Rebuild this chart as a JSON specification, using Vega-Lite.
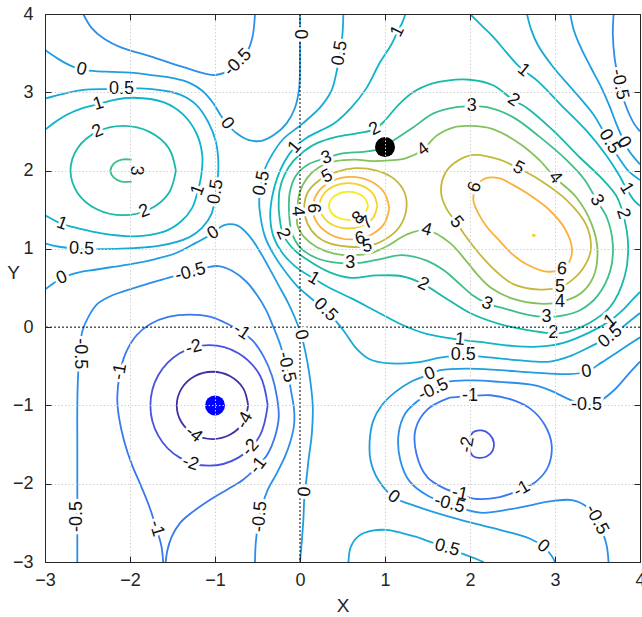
{
"$schema":"https://vega.github.io/schema/vega-lite/v6.json",
"width":595,"height":548,
"autosize":{"type":"none"},
"padding":{"left":45,"top":14,"right":2,"bottom":55},
"background":"#ffffff",
"config":{"view":{"stroke":null},"axis":{"domainColor":"#262626","domainWidth":1,"tickColor":"#262626","tickWidth":1,"labelFont":"Liberation Sans","labelFontSize":18,"labelColor":"#262626","titleFont":"Liberation Sans","titleFontSize":19,"titleFontWeight":"normal","titleColor":"#262626","gridColor":"#d2d2d2","gridDash":[1.5,2],"gridWidth":1}},
"datasets":{
"lines":[
{"i":1,"l":"8","x":0.8,"y":1.55},{"i":1,"l":"8","x":0.769,"y":1.64},{"i":1,"l":"8","x":0.685,"y":1.706},{"i":1,"l":"8","x":0.57,"y":1.73},{"i":1,"l":"8","x":0.455,"y":1.706},{"i":1,"l":"8","x":0.371,"y":1.64},{"i":1,"l":"8","x":0.34,"y":1.55},{"i":1,"l":"8","x":0.371,"y":1.46},{"i":1,"l":"8","x":0.455,"y":1.394},{"i":1,"l":"8","x":0.57,"y":1.37},{"i":1,"l":"8","x":0.685,"y":1.394},{"i":1,"l":"8","x":0.769,"y":1.46},{"i":1,"l":"8","x":0.8,"y":1.55},
{"i":2,"l":"7","x":0.91,"y":1.55},{"i":2,"l":"7","x":0.864,"y":1.695},{"i":2,"l":"7","x":0.74,"y":1.801},{"i":2,"l":"7","x":0.57,"y":1.84},{"i":2,"l":"7","x":0.4,"y":1.801},{"i":2,"l":"7","x":0.276,"y":1.695},{"i":2,"l":"7","x":0.23,"y":1.55},{"i":2,"l":"7","x":0.276,"y":1.405},{"i":2,"l":"7","x":0.4,"y":1.299},{"i":2,"l":"7","x":0.57,"y":1.26},{"i":2,"l":"7","x":0.74,"y":1.299},{"i":2,"l":"7","x":0.864,"y":1.405},{"i":2,"l":"7","x":0.91,"y":1.55},
{"i":3,"l":"6","x":1.05,"y":1.52},{"i":3,"l":"6","x":0.99,"y":1.72},{"i":3,"l":"6","x":0.825,"y":1.866},{"i":3,"l":"6","x":0.6,"y":1.92},{"i":3,"l":"6","x":0.375,"y":1.866},{"i":3,"l":"6","x":0.21,"y":1.72},{"i":3,"l":"6","x":0.15,"y":1.52},{"i":3,"l":"6","x":0.21,"y":1.32},{"i":3,"l":"6","x":0.375,"y":1.174},{"i":3,"l":"6","x":0.6,"y":1.12},{"i":3,"l":"6","x":0.825,"y":1.174},{"i":3,"l":"6","x":0.99,"y":1.32},{"i":3,"l":"6","x":1.05,"y":1.52},
{"i":4,"l":"5","x":0.55,"y":1.03},{"i":4,"l":"5","x":0.78,"y":1.03},{"i":4,"l":"5","x":1.0,"y":1.12},{"i":4,"l":"5","x":1.17,"y":1.28},{"i":4,"l":"5","x":1.25,"y":1.5},{"i":4,"l":"5","x":1.23,"y":1.72},{"i":4,"l":"5","x":1.1,"y":1.9},{"i":4,"l":"5","x":0.9,"y":2.0},{"i":4,"l":"5","x":0.65,"y":2.03},{"i":4,"l":"5","x":0.42,"y":1.98},{"i":4,"l":"5","x":0.22,"y":1.87},{"i":4,"l":"5","x":0.09,"y":1.72},{"i":4,"l":"5","x":0.05,"y":1.52},{"i":4,"l":"5","x":0.09,"y":1.32},{"i":4,"l":"5","x":0.2,"y":1.16},{"i":4,"l":"5","x":0.35,"y":1.07},{"i":4,"l":"5","x":0.55,"y":1.03},
{"i":5,"l":"4","x":-0.03,"y":1.48},{"i":5,"l":"4","x":-0.01,"y":1.7},{"i":5,"l":"4","x":0.08,"y":1.9},{"i":5,"l":"4","x":0.22,"y":2.04},{"i":5,"l":"4","x":0.42,"y":2.12},{"i":5,"l":"4","x":0.65,"y":2.14},{"i":5,"l":"4","x":0.85,"y":2.12},{"i":5,"l":"4","x":1.05,"y":2.13},{"i":5,"l":"4","x":1.25,"y":2.16},{"i":5,"l":"4","x":1.45,"y":2.27},{"i":5,"l":"4","x":1.6,"y":2.44},{"i":5,"l":"4","x":1.8,"y":2.55},{"i":5,"l":"4","x":2.0,"y":2.57},{"i":5,"l":"4","x":2.27,"y":2.53},{"i":5,"l":"4","x":2.59,"y":2.34},{"i":5,"l":"4","x":2.82,"y":2.13},{"i":5,"l":"4","x":3.0,"y":1.91},{"i":5,"l":"4","x":3.25,"y":1.66},{"i":5,"l":"4","x":3.43,"y":1.32},{"i":5,"l":"4","x":3.5,"y":0.98},{"i":5,"l":"4","x":3.45,"y":0.64},{"i":5,"l":"4","x":3.3,"y":0.43},{"i":5,"l":"4","x":3.06,"y":0.32},{"i":5,"l":"4","x":2.82,"y":0.3},{"i":5,"l":"4","x":2.51,"y":0.36},{"i":5,"l":"4","x":2.25,"y":0.5},{"i":5,"l":"4","x":2.08,"y":0.68},{"i":5,"l":"4","x":1.96,"y":0.84},{"i":5,"l":"4","x":1.76,"y":1.08},{"i":5,"l":"4","x":1.49,"y":1.24},{"i":5,"l":"4","x":1.25,"y":1.18},{"i":5,"l":"4","x":1.05,"y":1.05},{"i":5,"l":"4","x":0.85,"y":0.95},{"i":5,"l":"4","x":0.62,"y":0.92},{"i":5,"l":"4","x":0.4,"y":0.94},{"i":5,"l":"4","x":0.2,"y":1.02},{"i":5,"l":"4","x":0.05,"y":1.15},{"i":5,"l":"4","x":-0.03,"y":1.3},{"i":5,"l":"4","x":-0.03,"y":1.48},
{"i":6,"l":"3","x":-0.13,"y":1.5},{"i":6,"l":"3","x":-0.12,"y":1.72},{"i":6,"l":"3","x":-0.05,"y":1.93},{"i":6,"l":"3","x":0.1,"y":2.08},{"i":6,"l":"3","x":0.31,"y":2.16},{"i":6,"l":"3","x":0.5,"y":2.22},{"i":6,"l":"3","x":0.75,"y":2.24},{"i":6,"l":"3","x":0.95,"y":2.28},{"i":6,"l":"3","x":1.12,"y":2.4},{"i":6,"l":"3","x":1.33,"y":2.55},{"i":6,"l":"3","x":1.57,"y":2.73},{"i":6,"l":"3","x":1.84,"y":2.81},{"i":6,"l":"3","x":2.02,"y":2.82},{"i":6,"l":"3","x":2.2,"y":2.81},{"i":6,"l":"3","x":2.51,"y":2.68},{"i":6,"l":"3","x":2.82,"y":2.43},{"i":6,"l":"3","x":3.14,"y":2.13},{"i":6,"l":"3","x":3.35,"y":1.88},{"i":6,"l":"3","x":3.49,"y":1.62},{"i":6,"l":"3","x":3.61,"y":1.4},{"i":6,"l":"3","x":3.68,"y":1.06},{"i":6,"l":"3","x":3.65,"y":0.72},{"i":6,"l":"3","x":3.5,"y":0.4},{"i":6,"l":"3","x":3.3,"y":0.22},{"i":6,"l":"3","x":3.1,"y":0.15},{"i":6,"l":"3","x":2.9,"y":0.13},{"i":6,"l":"3","x":2.67,"y":0.16},{"i":6,"l":"3","x":2.4,"y":0.24},{"i":6,"l":"3","x":2.2,"y":0.3},{"i":6,"l":"3","x":2.04,"y":0.4},{"i":6,"l":"3","x":1.85,"y":0.58},{"i":6,"l":"3","x":1.7,"y":0.72},{"i":6,"l":"3","x":1.49,"y":0.85},{"i":6,"l":"3","x":1.2,"y":0.92},{"i":6,"l":"3","x":0.95,"y":0.87},{"i":6,"l":"3","x":0.7,"y":0.82},{"i":6,"l":"3","x":0.45,"y":0.82},{"i":6,"l":"3","x":0.2,"y":0.88},{"i":6,"l":"3","x":0.0,"y":1.02},{"i":6,"l":"3","x":-0.1,"y":1.22},{"i":6,"l":"3","x":-0.13,"y":1.5},
{"i":7,"l":"2","x":-0.25,"y":1.5},{"i":7,"l":"2","x":-0.24,"y":1.75},{"i":7,"l":"2","x":-0.18,"y":1.95},{"i":7,"l":"2","x":-0.08,"y":2.12},{"i":7,"l":"2","x":0.05,"y":2.25},{"i":7,"l":"2","x":0.2,"y":2.35},{"i":7,"l":"2","x":0.43,"y":2.43},{"i":7,"l":"2","x":0.7,"y":2.48},{"i":7,"l":"2","x":0.88,"y":2.53},{"i":7,"l":"2","x":1.0,"y":2.64},{"i":7,"l":"2","x":1.15,"y":2.83},{"i":7,"l":"2","x":1.33,"y":3.0},{"i":7,"l":"2","x":1.55,"y":3.11},{"i":7,"l":"2","x":1.73,"y":3.15},{"i":7,"l":"2","x":2.0,"y":3.16},{"i":7,"l":"2","x":2.27,"y":3.09},{"i":7,"l":"2","x":2.51,"y":2.9},{"i":7,"l":"2","x":2.67,"y":2.8},{"i":7,"l":"2","x":2.98,"y":2.51},{"i":7,"l":"2","x":3.29,"y":2.17},{"i":7,"l":"2","x":3.55,"y":1.9},{"i":7,"l":"2","x":3.72,"y":1.68},{"i":7,"l":"2","x":3.8,"y":1.45},{"i":7,"l":"2","x":3.86,"y":1.06},{"i":7,"l":"2","x":3.82,"y":0.65},{"i":7,"l":"2","x":3.65,"y":0.26},{"i":7,"l":"2","x":3.4,"y":0.05},{"i":7,"l":"2","x":3.15,"y":-0.06},{"i":7,"l":"2","x":2.98,"y":-0.08},{"i":7,"l":"2","x":2.75,"y":-0.05},{"i":7,"l":"2","x":2.35,"y":0.04},{"i":7,"l":"2","x":2.0,"y":0.18},{"i":7,"l":"2","x":1.7,"y":0.38},{"i":7,"l":"2","x":1.45,"y":0.55},{"i":7,"l":"2","x":1.2,"y":0.65},{"i":7,"l":"2","x":0.9,"y":0.66},{"i":7,"l":"2","x":0.6,"y":0.63},{"i":7,"l":"2","x":0.35,"y":0.7},{"i":7,"l":"2","x":0.1,"y":0.85},{"i":7,"l":"2","x":-0.08,"y":1.0},{"i":7,"l":"2","x":-0.2,"y":1.19},{"i":7,"l":"2","x":-0.25,"y":1.5},
{"i":8,"l":"1","x":1.24,"y":4.0},{"i":8,"l":"1","x":1.2,"y":3.88},{"i":8,"l":"1","x":1.15,"y":3.78},{"i":8,"l":"1","x":1.07,"y":3.6},{"i":8,"l":"1","x":0.94,"y":3.38},{"i":8,"l":"1","x":0.78,"y":3.05},{"i":8,"l":"1","x":0.6,"y":2.8},{"i":8,"l":"1","x":0.4,"y":2.6},{"i":8,"l":"1","x":0.24,"y":2.51},{"i":8,"l":"1","x":0.08,"y":2.42},{"i":8,"l":"1","x":-0.06,"y":2.3},{"i":8,"l":"1","x":-0.18,"y":2.12},{"i":8,"l":"1","x":-0.27,"y":1.9},{"i":8,"l":"1","x":-0.33,"y":1.65},{"i":8,"l":"1","x":-0.35,"y":1.4},{"i":8,"l":"1","x":-0.31,"y":1.15},{"i":8,"l":"1","x":-0.21,"y":0.95},{"i":8,"l":"1","x":-0.06,"y":0.78},{"i":8,"l":"1","x":0.16,"y":0.62},{"i":8,"l":"1","x":0.35,"y":0.5},{"i":8,"l":"1","x":0.6,"y":0.37},{"i":8,"l":"1","x":0.9,"y":0.2},{"i":8,"l":"1","x":1.2,"y":0.03},{"i":8,"l":"1","x":1.5,"y":-0.09},{"i":8,"l":"1","x":1.88,"y":-0.16},{"i":8,"l":"1","x":2.2,"y":-0.2},{"i":8,"l":"1","x":2.5,"y":-0.24},{"i":8,"l":"1","x":2.8,"y":-0.25},{"i":8,"l":"1","x":3.1,"y":-0.2},{"i":8,"l":"1","x":3.4,"y":-0.07},{"i":8,"l":"1","x":3.63,"y":0.07},{"i":8,"l":"1","x":3.8,"y":0.22},{"i":8,"l":"1","x":3.92,"y":0.36},{"i":8,"l":"1","x":4.0,"y":0.45},
{"i":9,"l":"1","x":2.0,"y":4.0},{"i":9,"l":"1","x":2.12,"y":3.87},{"i":9,"l":"1","x":2.27,"y":3.71},{"i":9,"l":"1","x":2.42,"y":3.52},{"i":9,"l":"1","x":2.55,"y":3.36},{"i":9,"l":"1","x":2.63,"y":3.28},{"i":9,"l":"1","x":2.8,"y":3.14},{"i":9,"l":"1","x":3.06,"y":2.85},{"i":9,"l":"1","x":3.37,"y":2.51},{"i":9,"l":"1","x":3.6,"y":2.2},{"i":9,"l":"1","x":3.75,"y":1.95},{"i":9,"l":"1","x":3.84,"y":1.77},{"i":9,"l":"1","x":3.93,"y":1.62},{"i":9,"l":"1","x":4.0,"y":1.55},
{"i":10,"l":"0.5","x":0.51,"y":4.0},{"i":10,"l":"0.5","x":0.5,"y":3.75},{"i":10,"l":"0.5","x":0.47,"y":3.5},{"i":10,"l":"0.5","x":0.43,"y":3.26},{"i":10,"l":"0.5","x":0.37,"y":3.02},{"i":10,"l":"0.5","x":0.24,"y":2.81},{"i":10,"l":"0.5","x":0.03,"y":2.6},{"i":10,"l":"0.5","x":-0.2,"y":2.4},{"i":10,"l":"0.5","x":-0.33,"y":2.2},{"i":10,"l":"0.5","x":-0.42,"y":2.0},{"i":10,"l":"0.5","x":-0.46,"y":1.8},{"i":10,"l":"0.5","x":-0.48,"y":1.6},{"i":10,"l":"0.5","x":-0.46,"y":1.38},{"i":10,"l":"0.5","x":-0.41,"y":1.15},{"i":10,"l":"0.5","x":-0.31,"y":0.93},{"i":10,"l":"0.5","x":-0.18,"y":0.72},{"i":10,"l":"0.5","x":-0.03,"y":0.52},{"i":10,"l":"0.5","x":0.14,"y":0.36},{"i":10,"l":"0.5","x":0.3,"y":0.22},{"i":10,"l":"0.5","x":0.42,"y":0.08},{"i":10,"l":"0.5","x":0.51,"y":-0.04},{"i":10,"l":"0.5","x":0.67,"y":-0.28},{"i":10,"l":"0.5","x":0.82,"y":-0.41},{"i":10,"l":"0.5","x":1.02,"y":-0.46},{"i":10,"l":"0.5","x":1.37,"y":-0.45},{"i":10,"l":"0.5","x":1.65,"y":-0.39},{"i":10,"l":"0.5","x":1.92,"y":-0.36},{"i":10,"l":"0.5","x":2.16,"y":-0.38},{"i":10,"l":"0.5","x":2.55,"y":-0.42},{"i":10,"l":"0.5","x":2.94,"y":-0.44},{"i":10,"l":"0.5","x":3.2,"y":-0.36},{"i":10,"l":"0.5","x":3.45,"y":-0.23},{"i":10,"l":"0.5","x":3.65,"y":-0.12},{"i":10,"l":"0.5","x":3.85,"y":0.05},{"i":10,"l":"0.5","x":4.0,"y":0.18},
{"i":11,"l":"0.5","x":2.67,"y":4.0},{"i":11,"l":"0.5","x":2.72,"y":3.8},{"i":11,"l":"0.5","x":2.8,"y":3.6},{"i":11,"l":"0.5","x":2.98,"y":3.32},{"i":11,"l":"0.5","x":3.22,"y":3.02},{"i":11,"l":"0.5","x":3.45,"y":2.72},{"i":11,"l":"0.5","x":3.56,"y":2.52},{"i":11,"l":"0.5","x":3.64,"y":2.37},{"i":11,"l":"0.5","x":3.74,"y":2.18},{"i":11,"l":"0.5","x":3.86,"y":2.0},{"i":11,"l":"0.5","x":4.0,"y":1.88},
{"i":12,"l":"0","x":3.18,"y":4.0},{"i":12,"l":"0","x":3.22,"y":3.8},{"i":12,"l":"0","x":3.3,"y":3.58},{"i":12,"l":"0","x":3.42,"y":3.32},{"i":12,"l":"0","x":3.55,"y":3.05},{"i":12,"l":"0","x":3.65,"y":2.8},{"i":12,"l":"0","x":3.72,"y":2.6},{"i":12,"l":"0","x":3.78,"y":2.45},{"i":12,"l":"0","x":3.86,"y":2.27},{"i":12,"l":"0","x":4.0,"y":2.08},
{"i":13,"l":"-0.5","x":3.69,"y":4.0},{"i":13,"l":"-0.5","x":3.68,"y":3.75},{"i":13,"l":"-0.5","x":3.7,"y":3.45},{"i":13,"l":"-0.5","x":3.74,"y":3.2},{"i":13,"l":"-0.5","x":3.78,"y":3.0},{"i":13,"l":"-0.5","x":3.85,"y":2.78},{"i":13,"l":"-0.5","x":3.93,"y":2.6},{"i":13,"l":"-0.5","x":4.0,"y":2.5},
{"i":14,"l":"0","x":-3.0,"y":3.54},{"i":14,"l":"0","x":-2.85,"y":3.43},{"i":14,"l":"0","x":-2.7,"y":3.34},{"i":14,"l":"0","x":-2.57,"y":3.29},{"i":14,"l":"0","x":-2.41,"y":3.27},{"i":14,"l":"0","x":-2.2,"y":3.26},{"i":14,"l":"0","x":-2.0,"y":3.25},{"i":14,"l":"0","x":-1.75,"y":3.22},{"i":14,"l":"0","x":-1.49,"y":3.18},{"i":14,"l":"0","x":-1.3,"y":3.12},{"i":14,"l":"0","x":-1.15,"y":3.02},{"i":14,"l":"0","x":-1.02,"y":2.86},{"i":14,"l":"0","x":-0.93,"y":2.7},{"i":14,"l":"0","x":-0.86,"y":2.6},{"i":14,"l":"0","x":-0.75,"y":2.48},{"i":14,"l":"0","x":-0.6,"y":2.39},{"i":14,"l":"0","x":-0.45,"y":2.38},{"i":14,"l":"0","x":-0.3,"y":2.46},{"i":14,"l":"0","x":-0.16,"y":2.6},{"i":14,"l":"0","x":-0.06,"y":2.8},{"i":14,"l":"0","x":-0.01,"y":3.05},{"i":14,"l":"0","x":0.0,"y":3.4},{"i":14,"l":"0","x":0.0,"y":3.75},{"i":14,"l":"0","x":0.0,"y":4.0},
{"i":15,"l":"-0.5","x":-2.55,"y":4.0},{"i":15,"l":"-0.5","x":-2.45,"y":3.82},{"i":15,"l":"-0.5","x":-2.3,"y":3.68},{"i":15,"l":"-0.5","x":-2.1,"y":3.57},{"i":15,"l":"-0.5","x":-1.76,"y":3.46},{"i":15,"l":"-0.5","x":-1.37,"y":3.32},{"i":15,"l":"-0.5","x":-1.02,"y":3.22},{"i":15,"l":"-0.5","x":-0.85,"y":3.27},{"i":15,"l":"-0.5","x":-0.73,"y":3.38},{"i":15,"l":"-0.5","x":-0.62,"y":3.52},{"i":15,"l":"-0.5","x":-0.56,"y":3.7},{"i":15,"l":"-0.5","x":-0.54,"y":3.85},{"i":15,"l":"-0.5","x":-0.53,"y":4.0},
{"i":16,"l":"0.5","x":-3.0,"y":2.92},{"i":16,"l":"0.5","x":-2.75,"y":2.99},{"i":16,"l":"0.5","x":-2.55,"y":3.03},{"i":16,"l":"0.5","x":-2.3,"y":3.04},{"i":16,"l":"0.5","x":-2.1,"y":3.04},{"i":16,"l":"0.5","x":-1.88,"y":3.05},{"i":16,"l":"0.5","x":-1.6,"y":3.02},{"i":16,"l":"0.5","x":-1.41,"y":2.97},{"i":16,"l":"0.5","x":-1.22,"y":2.84},{"i":16,"l":"0.5","x":-1.08,"y":2.62},{"i":16,"l":"0.5","x":-0.99,"y":2.37},{"i":16,"l":"0.5","x":-0.96,"y":2.05},{"i":16,"l":"0.5","x":-0.99,"y":1.73},{"i":16,"l":"0.5","x":-1.04,"y":1.45},{"i":16,"l":"0.5","x":-1.15,"y":1.27},{"i":16,"l":"0.5","x":-1.3,"y":1.15},{"i":16,"l":"0.5","x":-1.65,"y":1.04},{"i":16,"l":"0.5","x":-2.16,"y":1.0},{"i":16,"l":"0.5","x":-2.57,"y":1.0},{"i":16,"l":"0.5","x":-2.85,"y":1.03},{"i":16,"l":"0.5","x":-3.0,"y":1.07},
{"i":17,"l":"1","x":-3.0,"y":2.52},{"i":17,"l":"1","x":-2.88,"y":2.62},{"i":17,"l":"1","x":-2.75,"y":2.71},{"i":17,"l":"1","x":-2.55,"y":2.8},{"i":17,"l":"1","x":-2.37,"y":2.85},{"i":17,"l":"1","x":-2.2,"y":2.9},{"i":17,"l":"1","x":-1.96,"y":2.93},{"i":17,"l":"1","x":-1.6,"y":2.87},{"i":17,"l":"1","x":-1.38,"y":2.72},{"i":17,"l":"1","x":-1.22,"y":2.48},{"i":17,"l":"1","x":-1.15,"y":2.2},{"i":17,"l":"1","x":-1.16,"y":1.95},{"i":17,"l":"1","x":-1.2,"y":1.75},{"i":17,"l":"1","x":-1.27,"y":1.52},{"i":17,"l":"1","x":-1.4,"y":1.35},{"i":17,"l":"1","x":-1.6,"y":1.22},{"i":17,"l":"1","x":-1.96,"y":1.16},{"i":17,"l":"1","x":-2.35,"y":1.2},{"i":17,"l":"1","x":-2.6,"y":1.26},{"i":17,"l":"1","x":-2.8,"y":1.32},{"i":17,"l":"1","x":-2.95,"y":1.4},{"i":17,"l":"1","x":-3.0,"y":1.43},
{"i":18,"l":"2","x":-1.46,"y":2.0},{"i":18,"l":"2","x":-1.543,"y":2.285},{"i":18,"l":"2","x":-1.77,"y":2.494},{"i":18,"l":"2","x":-2.08,"y":2.57},{"i":18,"l":"2","x":-2.39,"y":2.494},{"i":18,"l":"2","x":-2.617,"y":2.285},{"i":18,"l":"2","x":-2.7,"y":2.0},{"i":18,"l":"2","x":-2.617,"y":1.715},{"i":18,"l":"2","x":-2.39,"y":1.506},{"i":18,"l":"2","x":-2.08,"y":1.43},{"i":18,"l":"2","x":-1.77,"y":1.506},{"i":18,"l":"2","x":-1.543,"y":1.715},{"i":18,"l":"2","x":-1.46,"y":2.0},
{"i":19,"l":"3","x":-1.98,"y":2.14},{"i":19,"l":"3","x":-2.1,"y":2.14},{"i":19,"l":"3","x":-2.19,"y":2.09},{"i":19,"l":"3","x":-2.23,"y":2.0},{"i":19,"l":"3","x":-2.19,"y":1.91},{"i":19,"l":"3","x":-2.1,"y":1.86},{"i":19,"l":"3","x":-1.98,"y":1.86},
{"i":20,"l":"0","x":-3.0,"y":0.48},{"i":20,"l":"0","x":-2.9,"y":0.56},{"i":20,"l":"0","x":-2.8,"y":0.63},{"i":20,"l":"0","x":-2.6,"y":0.7},{"i":20,"l":"0","x":-2.43,"y":0.73},{"i":20,"l":"0","x":-2.2,"y":0.77},{"i":20,"l":"0","x":-1.96,"y":0.81},{"i":20,"l":"0","x":-1.7,"y":0.87},{"i":20,"l":"0","x":-1.45,"y":0.95},{"i":20,"l":"0","x":-1.22,"y":1.08},{"i":20,"l":"0","x":-1.02,"y":1.2},{"i":20,"l":"0","x":-0.9,"y":1.3},{"i":20,"l":"0","x":-0.74,"y":1.3},{"i":20,"l":"0","x":-0.6,"y":1.17},{"i":20,"l":"0","x":-0.48,"y":0.98},{"i":20,"l":"0","x":-0.37,"y":0.77},{"i":20,"l":"0","x":-0.25,"y":0.53},{"i":20,"l":"0","x":-0.14,"y":0.31},{"i":20,"l":"0","x":-0.06,"y":0.12},{"i":20,"l":"0","x":0.01,"y":-0.08},{"i":20,"l":"0","x":0.06,"y":-0.3},{"i":20,"l":"0","x":0.11,"y":-0.6},{"i":20,"l":"0","x":0.15,"y":-1.0},{"i":20,"l":"0","x":0.14,"y":-1.35},{"i":20,"l":"0","x":0.1,"y":-1.7},{"i":20,"l":"0","x":0.07,"y":-2.0},{"i":20,"l":"0","x":0.05,"y":-2.2},{"i":20,"l":"0","x":0.04,"y":-2.45},{"i":20,"l":"0","x":0.02,"y":-2.75},{"i":20,"l":"0","x":0.0,"y":-3.0},
{"i":21,"l":"-0.5","x":-2.62,"y":-3.0},{"i":21,"l":"-0.5","x":-2.62,"y":-2.5},{"i":21,"l":"-0.5","x":-2.62,"y":-2.0},{"i":21,"l":"-0.5","x":-2.62,"y":-1.5},{"i":21,"l":"-0.5","x":-2.62,"y":-1.0},{"i":21,"l":"-0.5","x":-2.61,"y":-0.6},{"i":21,"l":"-0.5","x":-2.59,"y":-0.3},{"i":21,"l":"-0.5","x":-2.56,"y":-0.05},{"i":21,"l":"-0.5","x":-2.48,"y":0.15},{"i":21,"l":"-0.5","x":-2.38,"y":0.3},{"i":21,"l":"-0.5","x":-2.2,"y":0.41},{"i":21,"l":"-0.5","x":-2.04,"y":0.47},{"i":21,"l":"-0.5","x":-1.8,"y":0.55},{"i":21,"l":"-0.5","x":-1.55,"y":0.63},{"i":21,"l":"-0.5","x":-1.29,"y":0.7},{"i":21,"l":"-0.5","x":-1.1,"y":0.76},{"i":21,"l":"-0.5","x":-0.96,"y":0.78},{"i":21,"l":"-0.5","x":-0.8,"y":0.72},{"i":21,"l":"-0.5","x":-0.63,"y":0.58},{"i":21,"l":"-0.5","x":-0.5,"y":0.4},{"i":21,"l":"-0.5","x":-0.4,"y":0.22},{"i":21,"l":"-0.5","x":-0.32,"y":0.02},{"i":21,"l":"-0.5","x":-0.24,"y":-0.2},{"i":21,"l":"-0.5","x":-0.18,"y":-0.42},{"i":21,"l":"-0.5","x":-0.14,"y":-0.6},{"i":21,"l":"-0.5","x":-0.1,"y":-0.85},{"i":21,"l":"-0.5","x":-0.07,"y":-1.05},{"i":21,"l":"-0.5","x":-0.07,"y":-1.25},{"i":21,"l":"-0.5","x":-0.11,"y":-1.45},{"i":21,"l":"-0.5","x":-0.18,"y":-1.66},{"i":21,"l":"-0.5","x":-0.28,"y":-1.88},{"i":21,"l":"-0.5","x":-0.38,"y":-2.08},{"i":21,"l":"-0.5","x":-0.45,"y":-2.3},{"i":21,"l":"-0.5","x":-0.49,"y":-2.5},{"i":21,"l":"-0.5","x":-0.52,"y":-2.75},{"i":21,"l":"-0.5","x":-0.53,"y":-3.0},
{"i":22,"l":"-1","x":-1.61,"y":-3.0},{"i":22,"l":"-1","x":-1.63,"y":-2.8},{"i":22,"l":"-1","x":-1.69,"y":-2.57},{"i":22,"l":"-1","x":-1.77,"y":-2.3},{"i":22,"l":"-1","x":-1.87,"y":-2.03},{"i":22,"l":"-1","x":-1.98,"y":-1.75},{"i":22,"l":"-1","x":-2.07,"y":-1.45},{"i":22,"l":"-1","x":-2.13,"y":-1.15},{"i":22,"l":"-1","x":-2.15,"y":-0.9},{"i":22,"l":"-1","x":-2.12,"y":-0.6},{"i":22,"l":"-1","x":-2.05,"y":-0.33},{"i":22,"l":"-1","x":-1.92,"y":-0.1},{"i":22,"l":"-1","x":-1.76,"y":0.04},{"i":22,"l":"-1","x":-1.55,"y":0.13},{"i":22,"l":"-1","x":-1.3,"y":0.16},{"i":22,"l":"-1","x":-1.05,"y":0.13},{"i":22,"l":"-1","x":-0.85,"y":0.04},{"i":22,"l":"-1","x":-0.69,"y":-0.06},{"i":22,"l":"-1","x":-0.55,"y":-0.18},{"i":22,"l":"-1","x":-0.43,"y":-0.37},{"i":22,"l":"-1","x":-0.33,"y":-0.62},{"i":22,"l":"-1","x":-0.27,"y":-0.9},{"i":22,"l":"-1","x":-0.25,"y":-1.15},{"i":22,"l":"-1","x":-0.3,"y":-1.42},{"i":22,"l":"-1","x":-0.38,"y":-1.62},{"i":22,"l":"-1","x":-0.5,"y":-1.78},{"i":22,"l":"-1","x":-0.67,"y":-1.95},{"i":22,"l":"-1","x":-0.85,"y":-2.07},{"i":22,"l":"-1","x":-1.02,"y":-2.18},{"i":22,"l":"-1","x":-1.25,"y":-2.35},{"i":22,"l":"-1","x":-1.41,"y":-2.5},{"i":22,"l":"-1","x":-1.51,"y":-2.68},{"i":22,"l":"-1","x":-1.56,"y":-2.85},{"i":22,"l":"-1","x":-1.58,"y":-3.0},
{"i":23,"l":"-2","x":-0.38,"y":-1.0},{"i":23,"l":"-2","x":-0.472,"y":-0.615},{"i":23,"l":"-2","x":-0.725,"y":-0.333},{"i":23,"l":"-2","x":-1.07,"y":-0.23},{"i":23,"l":"-2","x":-1.415,"y":-0.333},{"i":23,"l":"-2","x":-1.668,"y":-0.615},{"i":23,"l":"-2","x":-1.76,"y":-1.0},{"i":23,"l":"-2","x":-1.668,"y":-1.385},{"i":23,"l":"-2","x":-1.415,"y":-1.667},{"i":23,"l":"-2","x":-1.07,"y":-1.77},{"i":23,"l":"-2","x":-0.725,"y":-1.667},{"i":23,"l":"-2","x":-0.472,"y":-1.385},{"i":23,"l":"-2","x":-0.38,"y":-1.0},
{"i":24,"l":"-4","x":-0.61,"y":-1.0},{"i":24,"l":"-4","x":-0.666,"y":-0.785},{"i":24,"l":"-4","x":-0.82,"y":-0.628},{"i":24,"l":"-4","x":-1.03,"y":-0.57},{"i":24,"l":"-4","x":-1.24,"y":-0.628},{"i":24,"l":"-4","x":-1.394,"y":-0.785},{"i":24,"l":"-4","x":-1.45,"y":-1.0},{"i":24,"l":"-4","x":-1.394,"y":-1.215},{"i":24,"l":"-4","x":-1.24,"y":-1.372},{"i":24,"l":"-4","x":-1.03,"y":-1.43},{"i":24,"l":"-4","x":-0.82,"y":-1.372},{"i":24,"l":"-4","x":-0.666,"y":-1.215},{"i":24,"l":"-4","x":-0.61,"y":-1.0},
{"i":25,"l":"-2","x":1.97,"y":-1.5},{"i":25,"l":"-2","x":2.04,"y":-1.34},{"i":25,"l":"-2","x":2.14,"y":-1.32},{"i":25,"l":"-2","x":2.23,"y":-1.37},{"i":25,"l":"-2","x":2.28,"y":-1.47},{"i":25,"l":"-2","x":2.27,"y":-1.57},{"i":25,"l":"-2","x":2.2,"y":-1.65},{"i":25,"l":"-2","x":2.1,"y":-1.67},{"i":25,"l":"-2","x":2.03,"y":-1.64},{"i":25,"l":"-2","x":1.97,"y":-1.5},
{"i":26,"l":"-1","x":1.76,"y":-0.9},{"i":26,"l":"-1","x":2.0,"y":-0.88},{"i":26,"l":"-1","x":2.24,"y":-0.87},{"i":26,"l":"-1","x":2.5,"y":-0.93},{"i":26,"l":"-1","x":2.72,"y":-1.05},{"i":26,"l":"-1","x":2.88,"y":-1.25},{"i":26,"l":"-1","x":2.96,"y":-1.5},{"i":26,"l":"-1","x":2.92,"y":-1.78},{"i":26,"l":"-1","x":2.78,"y":-1.97},{"i":26,"l":"-1","x":2.61,"y":-2.07},{"i":26,"l":"-1","x":2.35,"y":-2.17},{"i":26,"l":"-1","x":2.04,"y":-2.19},{"i":26,"l":"-1","x":1.88,"y":-2.13},{"i":26,"l":"-1","x":1.7,"y":-2.06},{"i":26,"l":"-1","x":1.5,"y":-1.92},{"i":26,"l":"-1","x":1.37,"y":-1.62},{"i":26,"l":"-1","x":1.36,"y":-1.3},{"i":26,"l":"-1","x":1.5,"y":-1.05},{"i":26,"l":"-1","x":1.76,"y":-0.9},
{"i":27,"l":"-0.5","x":4.0,"y":-0.44},{"i":27,"l":"-0.5","x":3.88,"y":-0.58},{"i":27,"l":"-0.5","x":3.7,"y":-0.8},{"i":27,"l":"-0.5","x":3.52,"y":-0.95},{"i":27,"l":"-0.5","x":3.37,"y":-1.0},{"i":27,"l":"-0.5","x":3.18,"y":-0.93},{"i":27,"l":"-0.5","x":2.95,"y":-0.81},{"i":27,"l":"-0.5","x":2.75,"y":-0.74},{"i":27,"l":"-0.5","x":2.35,"y":-0.7},{"i":27,"l":"-0.5","x":2.04,"y":-0.68},{"i":27,"l":"-0.5","x":1.73,"y":-0.7},{"i":27,"l":"-0.5","x":1.57,"y":-0.8},{"i":27,"l":"-0.5","x":1.4,"y":-0.93},{"i":27,"l":"-0.5","x":1.24,"y":-1.1},{"i":27,"l":"-0.5","x":1.16,"y":-1.36},{"i":27,"l":"-0.5","x":1.18,"y":-1.7},{"i":27,"l":"-0.5","x":1.29,"y":-1.97},{"i":27,"l":"-0.5","x":1.5,"y":-2.15},{"i":27,"l":"-0.5","x":1.76,"y":-2.26},{"i":27,"l":"-0.5","x":2.12,"y":-2.37},{"i":27,"l":"-0.5","x":2.5,"y":-2.32},{"i":27,"l":"-0.5","x":2.98,"y":-2.22},{"i":27,"l":"-0.5","x":3.2,"y":-2.21},{"i":27,"l":"-0.5","x":3.38,"y":-2.3},{"i":27,"l":"-0.5","x":3.49,"y":-2.46},{"i":27,"l":"-0.5","x":3.57,"y":-2.65},{"i":27,"l":"-0.5","x":3.61,"y":-2.8},{"i":27,"l":"-0.5","x":3.63,"y":-3.0},
{"i":28,"l":"0","x":4.0,"y":-0.13},{"i":28,"l":"0","x":3.76,"y":-0.3},{"i":28,"l":"0","x":3.55,"y":-0.45},{"i":28,"l":"0","x":3.37,"y":-0.57},{"i":28,"l":"0","x":3.14,"y":-0.6},{"i":28,"l":"0","x":2.75,"y":-0.58},{"i":28,"l":"0","x":2.35,"y":-0.55},{"i":28,"l":"0","x":1.96,"y":-0.53},{"i":28,"l":"0","x":1.65,"y":-0.55},{"i":28,"l":"0","x":1.53,"y":-0.6},{"i":28,"l":"0","x":1.3,"y":-0.7},{"i":28,"l":"0","x":1.12,"y":-0.83},{"i":28,"l":"0","x":0.96,"y":-1.0},{"i":28,"l":"0","x":0.86,"y":-1.2},{"i":28,"l":"0","x":0.82,"y":-1.45},{"i":28,"l":"0","x":0.83,"y":-1.7},{"i":28,"l":"0","x":0.92,"y":-1.95},{"i":28,"l":"0","x":1.1,"y":-2.17},{"i":28,"l":"0","x":1.37,"y":-2.29},{"i":28,"l":"0","x":1.88,"y":-2.46},{"i":28,"l":"0","x":2.35,"y":-2.59},{"i":28,"l":"0","x":2.7,"y":-2.7},{"i":28,"l":"0","x":2.86,"y":-2.8},{"i":28,"l":"0","x":2.96,"y":-2.92},{"i":28,"l":"0","x":3.0,"y":-3.0},
{"i":29,"l":"0.5","x":0.57,"y":-3.0},{"i":29,"l":"0.5","x":0.6,"y":-2.8},{"i":29,"l":"0.5","x":0.7,"y":-2.66},{"i":29,"l":"0.5","x":0.85,"y":-2.6},{"i":29,"l":"0.5","x":1.02,"y":-2.59},{"i":29,"l":"0.5","x":1.2,"y":-2.63},{"i":29,"l":"0.5","x":1.37,"y":-2.68},{"i":29,"l":"0.5","x":1.55,"y":-2.75},{"i":29,"l":"0.5","x":1.73,"y":-2.82},{"i":29,"l":"0.5","x":1.9,"y":-2.89},{"i":29,"l":"0.5","x":2.05,"y":-2.95},{"i":29,"l":"0.5","x":2.16,"y":-3.0},
{"i":30,"l":"6","x":2.06,"y":1.79},{"i":30,"l":"6","x":2.18,"y":1.9},{"i":30,"l":"6","x":2.35,"y":1.9},{"i":30,"l":"6","x":2.5,"y":1.82},{"i":30,"l":"6","x":2.7,"y":1.69},{"i":30,"l":"6","x":2.94,"y":1.49},{"i":30,"l":"6","x":3.12,"y":1.25},{"i":30,"l":"6","x":3.2,"y":1.0},{"i":30,"l":"6","x":3.17,"y":0.84},{"i":30,"l":"6","x":3.08,"y":0.74},{"i":30,"l":"6","x":2.9,"y":0.71},{"i":30,"l":"6","x":2.67,"y":0.8},{"i":30,"l":"6","x":2.5,"y":0.93},{"i":30,"l":"6","x":2.35,"y":1.1},{"i":30,"l":"6","x":2.2,"y":1.28},{"i":30,"l":"6","x":2.1,"y":1.45},{"i":30,"l":"6","x":2.04,"y":1.62},{"i":30,"l":"6","x":2.06,"y":1.79},
{"i":31,"l":"5","x":1.84,"y":1.34},{"i":31,"l":"5","x":1.72,"y":1.52},{"i":31,"l":"5","x":1.66,"y":1.72},{"i":31,"l":"5","x":1.7,"y":1.95},{"i":31,"l":"5","x":1.82,"y":2.1},{"i":31,"l":"5","x":2.04,"y":2.2},{"i":31,"l":"5","x":2.35,"y":2.14},{"i":31,"l":"5","x":2.57,"y":2.03},{"i":31,"l":"5","x":2.82,"y":1.88},{"i":31,"l":"5","x":3.14,"y":1.62},{"i":31,"l":"5","x":3.37,"y":1.3},{"i":31,"l":"5","x":3.42,"y":0.98},{"i":31,"l":"5","x":3.33,"y":0.75},{"i":31,"l":"5","x":3.2,"y":0.6},{"i":31,"l":"5","x":3.06,"y":0.51},{"i":31,"l":"5","x":2.82,"y":0.48},{"i":31,"l":"5","x":2.51,"y":0.55},{"i":31,"l":"5","x":2.3,"y":0.72},{"i":31,"l":"5","x":2.1,"y":0.95},{"i":31,"l":"5","x":1.95,"y":1.16},{"i":31,"l":"5","x":1.84,"y":1.34},
{"i":32,"l":"7","x":2.74,"y":1.165},{"i":32,"l":"7","x":2.76,"y":1.165},{"i":32,"l":"7","x":2.76,"y":1.18},{"i":32,"l":"7","x":2.74,"y":1.18},{"i":32,"l":"7","x":2.74,"y":1.165}
],
"labels":[
{"t":"0","x":-2.57,"y":3.29,"a":13},{"t":"-0.5","x":-0.73,"y":3.38,"a":-45},{"t":"0.5","x":-2.1,"y":3.04,"a":0},{"t":"1","x":-2.37,"y":2.85,"a":-18},{"t":"2","x":-2.38,"y":2.5,"a":-25},{"t":"3","x":-1.93,"y":2.0,"a":90},{"t":"2","x":-1.83,"y":1.48,"a":-21},{"t":"1","x":-1.2,"y":1.75,"a":-70},{"t":"0.5","x":-0.99,"y":1.73,"a":-82},{"t":"1","x":-2.8,"y":1.32,"a":20},{"t":"0.5","x":-2.57,"y":1.0,"a":3},{"t":"0","x":-2.8,"y":0.63,"a":-23},{"t":"-0.5","x":-1.29,"y":0.7,"a":-15},{"t":"0","x":-1.02,"y":1.2,"a":-32},{"t":"0","x":-0.86,"y":2.6,"a":53},{"t":"0","x":0.0,"y":3.74,"a":90},{"t":"0.5","x":0.47,"y":3.5,"a":-81},{"t":"1","x":1.15,"y":3.78,"a":-64},{"t":"1","x":-0.06,"y":2.3,"a":-50},{"t":"0.5","x":-0.45,"y":1.84,"a":-78},{"t":"2","x":-0.2,"y":1.19,"a":65},{"t":"4","x":-0.03,"y":1.48,"a":85},{"t":"3","x":0.31,"y":2.16,"a":-18},{"t":"5","x":0.32,"y":1.925,"a":-27},{"t":"6","x":0.15,"y":1.52,"a":90},{"t":"8","x":0.69,"y":1.39,"a":-40},{"t":"7","x":0.79,"y":1.33,"a":-40},{"t":"6","x":0.71,"y":1.13,"a":-15},{"t":"5","x":0.79,"y":1.03,"a":-10},{"t":"3","x":0.59,"y":0.82,"a":0},{"t":"1","x":0.16,"y":0.62,"a":31},{"t":"0.5","x":0.3,"y":0.22,"a":45},{"t":"0","x":0.01,"y":-0.1,"a":78},{"t":"2","x":0.88,"y":2.53,"a":-28},{"t":"4","x":1.45,"y":2.27,"a":-36},{"t":"3","x":2.02,"y":2.82,"a":0},{"t":"2","x":2.51,"y":2.9,"a":34},{"t":"1","x":2.63,"y":3.28,"a":39},{"t":"-0.5","x":3.76,"y":3.1,"a":78},{"t":"0.5","x":3.64,"y":2.37,"a":60},{"t":"0","x":3.81,"y":2.36,"a":60},{"t":"5","x":2.57,"y":2.03,"a":28},{"t":"6","x":2.06,"y":1.79,"a":-70},{"t":"4","x":3.0,"y":1.91,"a":50},{"t":"3","x":3.49,"y":1.62,"a":60},{"t":"1","x":3.84,"y":1.77,"a":59},{"t":"2","x":3.8,"y":1.45,"a":72},{"t":"6","x":3.08,"y":0.74,"a":5},{"t":"5","x":3.06,"y":0.51,"a":0},{"t":"4","x":3.06,"y":0.32,"a":0},{"t":"3","x":2.9,"y":0.13,"a":0},{"t":"2","x":2.98,"y":-0.08,"a":0},{"t":"3","x":2.2,"y":0.3,"a":22},{"t":"2","x":1.45,"y":0.55,"a":26},{"t":"4","x":1.49,"y":1.24,"a":15},{"t":"5","x":1.84,"y":1.34,"a":51},{"t":"1","x":1.88,"y":-0.16,"a":5},{"t":"0.5","x":1.92,"y":-0.36,"a":0},{"t":"0","x":1.53,"y":-0.6,"a":-22},{"t":"-0.5","x":1.57,"y":-0.8,"a":-25},{"t":"-1","x":2.0,"y":-0.88,"a":0},{"t":"-2","x":1.97,"y":-1.5,"a":-80},{"t":"-1","x":2.61,"y":-2.07,"a":-30},{"t":"-1","x":1.88,"y":-2.13,"a":12},{"t":"-0.5","x":1.76,"y":-2.26,"a":15},{"t":"0","x":1.1,"y":-2.17,"a":35},{"t":"0.5","x":1.73,"y":-2.82,"a":15},{"t":"0","x":2.86,"y":-2.8,"a":38},{"t":"-0.5","x":3.49,"y":-2.46,"a":62},{"t":"-0.5","x":3.37,"y":-1.0,"a":0},{"t":"0","x":3.37,"y":-0.57,"a":-10},{"t":"0.5","x":3.65,"y":-0.12,"a":-40},{"t":"1","x":3.65,"y":0.08,"a":-40},{"t":"-0.5","x":-2.59,"y":-0.34,"a":90},{"t":"-0.5","x":-2.62,"y":-2.42,"a":-90},{"t":"-1","x":-2.12,"y":-0.57,"a":-80},{"t":"-1","x":-0.69,"y":-0.06,"a":34},{"t":"-0.5","x":-0.16,"y":-0.51,"a":78},{"t":"-2","x":-1.25,"y":-0.26,"a":-15},{"t":"-2","x":-1.29,"y":-1.74,"a":18},{"t":"-2","x":-0.58,"y":-1.54,"a":-48},{"t":"-4","x":-1.25,"y":-1.37,"a":38},{"t":"-4","x":-0.65,"y":-1.19,"a":-62},{"t":"-1","x":-0.49,"y":-1.77,"a":-52},{"t":"-0.5","x":-0.47,"y":-2.42,"a":-85},{"t":"-1","x":-1.69,"y":-2.57,"a":73},{"t":"0","x":0.06,"y":-2.1,"a":-86}
],
"marks":[{"x":1,"y":2.3,"c":"k"},{"x":-1,"y":-1,"c":"b"}],
"zx":[{"v":0}],
"zy":[{"v":0}]
},
"layer":[
{"data":{"name":"lines"},"mark":{"type":"line","interpolate":"catmull-rom","strokeWidth":1.8,"clip":true},
"encoding":{
"x":{"field":"x","type":"quantitative","scale":{"domain":[-3,4],"nice":false,"zero":false},"axis":{"orient":"bottom","values":[-3,-2,-1,0,1,2,3,4],"grid":false,"tickSize":-6,"labelPadding":15,"labelFlush":false,"title":"X","titleY":43,"titleBaseline":"middle","zindex":1}},
"y":{"field":"y","type":"quantitative","scale":{"domain":[-3,4],"nice":false,"zero":false},"axis":{"orient":"left","values":[-3,-2,-1,0,1,2,3,4],"grid":false,"tickSize":-6,"labelPadding":18,"title":"Y","titleAngle":0,"titleX":-32,"titleY":258,"titleAlign":"center","titleBaseline":"middle","zindex":1}},
"detail":{"field":"i","type":"nominal"},
"color":{"field":"l","type":"nominal","scale":{"domain":["-4","-2","-1","-0.5","0","0.5","1","2","3","4","5","6","7","8"],"range":["#3e2fa3","#4752dd","#3a78ef","#2c8eea","#1f9de2","#17a9d8","#0eb4c9","#17baa7","#3dbf88","#82c25a","#c4b83a","#fbb03c","#f6d22a","#f5ec1e"]},"legend":null},
"order":{"value":null}
}},
{"data":{"name":"zx"},"mark":{"type":"rule","color":"#000000","strokeDash":[2,2],"strokeWidth":1},
"encoding":{"x":{"field":"v","type":"quantitative","scale":{"domain":[-3,4],"nice":false,"zero":false},"axis":{"orient":"top","values":[-3,-2,-1,1,2,3,4],"grid":true,"labels":false,"tickSize":-6,"title":null,"zindex":1}}}},
{"data":{"name":"zy"},"mark":{"type":"rule","color":"#000000","strokeDash":[2,2],"strokeWidth":1},
"encoding":{"y":{"field":"v","type":"quantitative","scale":{"domain":[-3,4],"nice":false,"zero":false},"axis":{"orient":"right","values":[-3,-2,-1,1,2,3,4],"grid":true,"labels":false,"tickSize":-6,"title":null,"zindex":1}}}},
{"data":{"name":"labels"},"mark":{"type":"text","font":"Liberation Sans","fontSize":18,"align":"center","baseline":"middle","color":"#ffffff","stroke":"#ffffff","strokeWidth":6,"strokeJoin":"round"},
"encoding":{"x":{"field":"x","type":"quantitative","scale":{"domain":[-3,4],"nice":false,"zero":false},"axis":null},"y":{"field":"y","type":"quantitative","scale":{"domain":[-3,4],"nice":false,"zero":false},"axis":null},"text":{"field":"t"},"angle":{"field":"a","type":"quantitative","scale":null}}},
{"data":{"name":"labels"},"mark":{"type":"text","font":"Liberation Sans","fontSize":18,"align":"center","baseline":"middle","color":"#111111"},
"encoding":{"x":{"field":"x","type":"quantitative","scale":{"domain":[-3,4],"nice":false,"zero":false},"axis":null},"y":{"field":"y","type":"quantitative","scale":{"domain":[-3,4],"nice":false,"zero":false},"axis":null},"text":{"field":"t"},"angle":{"field":"a","type":"quantitative","scale":null}}},
{"data":{"name":"marks"},"mark":{"type":"circle","opacity":1,"size":400},
"encoding":{"x":{"field":"x","type":"quantitative","scale":{"domain":[-3,4],"nice":false,"zero":false},"axis":null},"y":{"field":"y","type":"quantitative","scale":{"domain":[-3,4],"nice":false,"zero":false},"axis":null},"fill":{"field":"c","type":"nominal","scale":{"domain":["k","b"],"range":["#000000","#0000ff"]},"legend":null}}}
],
"resolve":{"axis":{"x":"independent","y":"independent"}}
}
